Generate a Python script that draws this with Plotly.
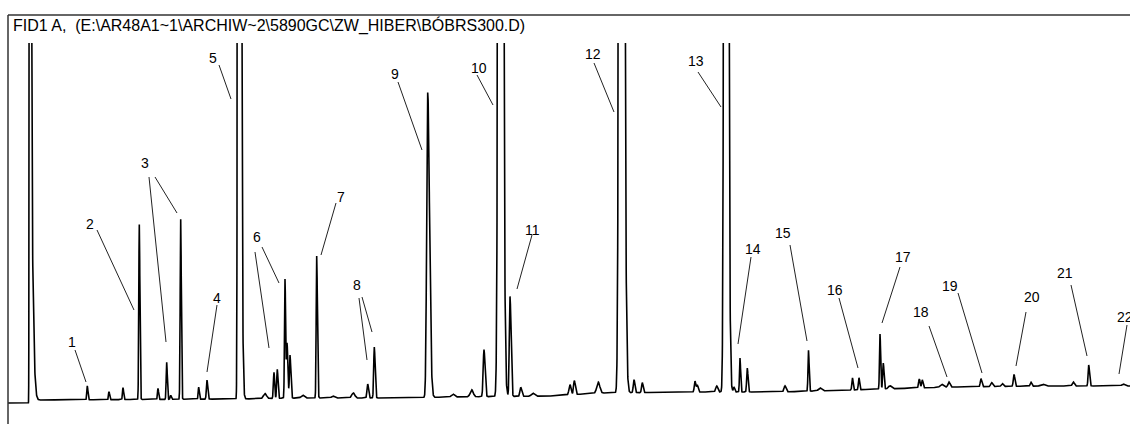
import numpy as np
import plotly.graph_objects as go

# ---- data: FID1 A chromatogram (time in min, signal in pA) ----
title_text = "FID1 A,  (E:\\AR48A1~1\\ARCHIW~2\\5890GC\\ZW_HIBER\\BÓBRS300.D)"

# baseline drift
base_t = [0.0, 0.40, 0.56, 4.64, 5.84, 7.84, 8.84, 10.84, 11.84, 13.84, 15.44, 16.84, 18.84, 20.84, 22.44]
base_s = [0.0, 0.0, 3.0, 4.0, 5.0, 5.0, 6.0, 7.0, 10.0, 11.0, 11.0, 13.0, 16.0, 17.0, 17.0]

# peak table: retention time, height, left width, right width
peak_rt = [0.424, 0.448, 1.586, 2.020, 2.300, 2.626, 3.000, 3.174, 3.254, 3.454,
           3.814, 3.980, 4.606, 5.140, 5.320, 5.386, 5.540, 5.580, 5.640, 5.894,
           6.174, 6.500, 6.906, 7.194, 7.326, 8.394, 8.900, 9.274, 9.520, 9.840,
           10.040, 10.254, 10.500, 11.240, 11.326, 11.806, 12.256, 12.520, 12.686, 13.740,
           13.786, 14.174, 14.350, 14.520, 14.640, 14.786, 15.540, 16.010, 16.240, 16.890,
           17.020, 17.440, 17.506, 17.640, 18.226, 18.286, 18.674, 18.820, 19.460, 19.674,
           19.886, 20.120, 20.460, 20.694, 21.306, 21.614, 22.306]
peak_h = [380, 5000, 14, 8, 12, 175, 11, 37, 4, 180,
          12, 19, 3000, 5, 26, 29, 119, 55, 43, 3,
          142, 2, 5, 14, 51, 305, 3, 7, 47, 2500,
          100, 9, 3, 10, 14, 11, 2500, 13, 10, 11,
          7, 6, 2500, 5, 34, 24, 6, 41, 3, 12,
          12, 55, 26, 3, 9, 8, 3, 5, 8, 4,
          3, 12, 4, 2, 4, 21, 2]
peak_wl = [0.004, 0.008, 0.010, 0.010, 0.010, 0.010, 0.010, 0.010, 0.012, 0.010,
           0.010, 0.012, 0.011, 0.030, 0.012, 0.012, 0.010, 0.012, 0.012, 0.030,
           0.010, 0.030, 0.030, 0.014, 0.012, 0.020, 0.030, 0.030, 0.016, 0.026,
           0.014, 0.016, 0.030, 0.020, 0.016, 0.030, 0.026, 0.014, 0.014, 0.014,
           0.014, 0.020, 0.022, 0.014, 0.010, 0.012, 0.020, 0.010, 0.030, 0.012,
           0.012, 0.010, 0.012, 0.030, 0.014, 0.014, 0.030, 0.020, 0.014, 0.020,
           0.020, 0.014, 0.016, 0.040, 0.020, 0.012, 0.030]
peak_wr = [0.050, 0.010, 0.012, 0.012, 0.012, 0.012, 0.012, 0.012, 0.012, 0.012,
           0.012, 0.014, 0.034, 0.030, 0.012, 0.014, 0.012, 0.016, 0.016, 0.030,
           0.014, 0.030, 0.030, 0.016, 0.016, 0.036, 0.030, 0.030, 0.020, 0.040,
           0.020, 0.020, 0.030, 0.020, 0.020, 0.030, 0.044, 0.016, 0.016, 0.016,
           0.016, 0.020, 0.036, 0.014, 0.012, 0.014, 0.020, 0.012, 0.030, 0.012,
           0.012, 0.012, 0.014, 0.030, 0.014, 0.014, 0.030, 0.020, 0.016, 0.020,
           0.020, 0.016, 0.016, 0.040, 0.020, 0.016, 0.030]

# peak label numbers
label_num = ["1", "2", "3", "4", "5", "6", "7", "8", "9", "10", "11",
             "12", "13", "14", "15", "16", "17", "18", "19", "20", "21", "22"]

# ---- build trace ----
t = np.arange(0.0, 22.44 + 1e-9, 0.002)
s = np.interp(t, base_t, base_s)
for rt, h, wl, wr in zip(peak_rt, peak_h, peak_wl, peak_wr):
    w = np.where(t < rt, wl, wr)
    s = s + h * np.exp(-0.5 * ((t - rt) / w) ** 2)

fig = go.Figure()
fig.add_trace(go.Scatter(x=t, y=s, mode="lines",
                         line=dict(color="black", width=1.6),
                         hoverinfo="skip", showlegend=False))

# label layout (data coordinates): label position, leader line(s)
label_layout = {
    "1": ((1.28, 61), [((1.34, 53), (1.56, 21))]),
    "2": ((1.64, 179), [((1.78, 173), (2.52, 93))]),
    "3": ((2.74, 240), [((2.82, 226), (3.16, 61)), ((2.94, 226), (3.38, 190))]),
    "4": ((4.18, 105), [((4.18, 98), (3.98, 31))]),
    "5": ((4.10, 345), [((4.22, 338), (4.46, 304))]),
    "6": ((4.98, 166), [((4.94, 151), (5.22, 55)), ((5.08, 156), (5.42, 120))]),
    "7": ((6.66, 206), [((6.56, 200), (6.26, 148))]),
    "8": ((6.98, 118), [((7.02, 105), (7.18, 43)), ((7.08, 106), (7.28, 71))]),
    "9": ((7.74, 329), [((7.80, 321), (8.28, 253))]),
    "10": ((9.42, 335), [((9.38, 328), (9.70, 298))]),
    "11": ((10.48, 173), [((10.48, 168), (10.18, 114))]),
    "12": ((11.70, 349), [((11.72, 340), (12.12, 291))]),
    "13": ((13.76, 342), [((13.80, 331), (14.26, 296))]),
    "14": ((14.90, 154), [((14.86, 146), (14.60, 59))]),
    "15": ((15.50, 170), [((15.64, 158), (15.98, 62))]),
    "16": ((16.54, 113), [((16.62, 105), (17.00, 35))]),
    "17": ((17.90, 146), [((17.84, 136), (17.48, 80))]),
    "18": ((18.26, 91), [((18.42, 77), (18.78, 26))]),
    "19": ((18.84, 117), [((19.00, 110), (19.48, 30))]),
    "20": ((20.48, 106), [((20.36, 91), (20.16, 37))]),
    "21": ((21.14, 130), [((21.26, 118), (21.58, 47))]),
    "22": ((22.34, 86), [((22.38, 78), (22.22, 29))]),
}

FONT = "Liberation Sans, Arial, sans-serif"
for num in label_num:
    (lx, ly), lines = label_layout[num]
    fig.add_annotation(x=lx, y=ly, xref="x", yref="y", text=num, showarrow=False,
                       font=dict(family=FONT, size=14, color="black"),
                       xanchor="center", yanchor="middle")
    for (x0, y0), (x1, y1) in lines:
        fig.add_shape(type="line", xref="x", yref="y", x0=x0, y0=y0, x1=x1, y1=y1,
                      line=dict(color="#222222", width=1))

# frame (top and left lines extend above plotting region)
H, TOP = 424, 43
ytop = (H - 15) / (H - TOP)
fig.add_shape(type="line", xref="paper", yref="paper", x0=0, x1=1.01, y0=ytop, y1=ytop,
              line=dict(color="#333333", width=1.5))
fig.add_shape(type="line", xref="paper", yref="paper", x0=0, x1=0, y0=-0.01, y1=ytop,
              line=dict(color="#333333", width=1.5))
fig.add_annotation(xref="paper", yref="paper", x=0.003, y=(H - 26) / (H - TOP),
                   text=title_text, showarrow=False, xanchor="left", yanchor="middle",
                   font=dict(family=FONT, size=16, color="black"))

fig.update_layout(
    width=1130, height=424,
    margin=dict(l=8, r=0, t=TOP, b=0),
    paper_bgcolor="white", plot_bgcolor="white",
    xaxis=dict(range=[0, 22.44], visible=False, fixedrange=True),
    yaxis=dict(range=[-21, 360], visible=False, fixedrange=True),
    showlegend=False,
)

fig.write_html("out.html", config={"displayModeBar": False},
               post_script="document.body.style.margin='0';document.body.style.overflow='hidden';")
